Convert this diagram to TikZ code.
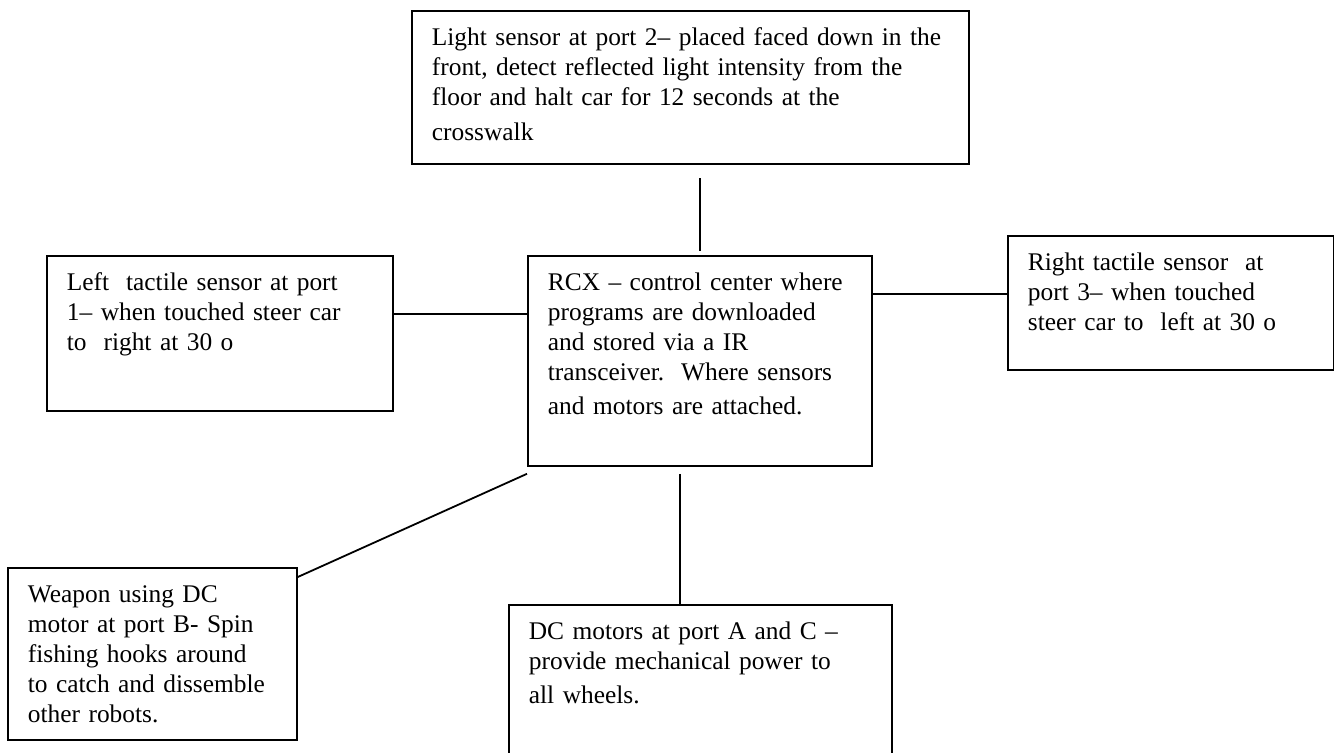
\documentclass[tikz,border=0pt]{standalone}
\usepackage{fontspec}
\setmainfont{Liberation Serif}
\tikzset{
	part/.style={draw=black, line width=0.9pt, anchor=north west, align=left, inner xsep=10pt, inner ysep=7pt, text height=10.5pt, font=\fontsize{12.7}{15}\selectfont},
	link/.style={draw=black, line width=0.9pt}
}
\begin{document}
\begin{tikzpicture}[x=0.5pt, y=-0.5pt]
	\useasboundingbox (0,0) rectangle (1334,753);
	
	\node[part, text width=258.5pt, text depth=52pt] (light) at (411,10) {\mbox{Light sensor at port 2– placed faced down in the}\\ front, detect reflected light intensity from the\\ floor and halt car for 12 seconds at the\\[2.5pt] crosswalk};
	\node[part, text width=152pt, text depth=80.5pt] (rcx) at (527,255) {RCX – control center where\\ programs are downloaded\\ and stored via a IR\\ transceiver.\ \ Where sensors\\[2pt] and motors are attached.};
	\node[part, text width=153pt, text depth=53pt] (left) at (46,255) {Left\ \ tactile sensor at port\\ 1– when touched steer car\\ to\ \ right at 30 o};
	\node[part, text width=143pt, text depth=42.5pt] (right) at (1007,235) {Right tactile sensor\ \ at\\ port 3– when touched\\ steer car to\ \ left at 30 o};
	\node[part, text width=124.5pt, text depth=61.5pt] (weapon) at (7,567) {Weapon using DC\\ motor at port B- Spin\\ fishing hooks around\\ to catch and dissemble\\ other robots.};
	\node[part, text width=171.5pt, text depth=68.5pt] (motors) at (508,604) {DC motors at port A and C –\\ provide mechanical power to\\[2pt] all wheels.};
	
	\draw[link, shorten <=2pt, shorten >=6.5pt] (rcx.north) -- (rcx.north |- light.south);
	\draw[link] ([yshift=9.75pt]left.east) -- ([yshift=9.75pt]left.east -| rcx.west);
	\draw[link] ([yshift=4.5pt]right.west) -- ([yshift=4.5pt]right.west -| rcx.east);
	\draw[link] ([yshift=-3.5pt]rcx.south west) -- ([yshift=-5pt]weapon.north east);
	\draw[link, shorten <=3.5pt] ([xshift=-10pt]rcx.south) -- ([xshift=-10pt]rcx.south |- motors.north);

\end{tikzpicture}
\end{document}
